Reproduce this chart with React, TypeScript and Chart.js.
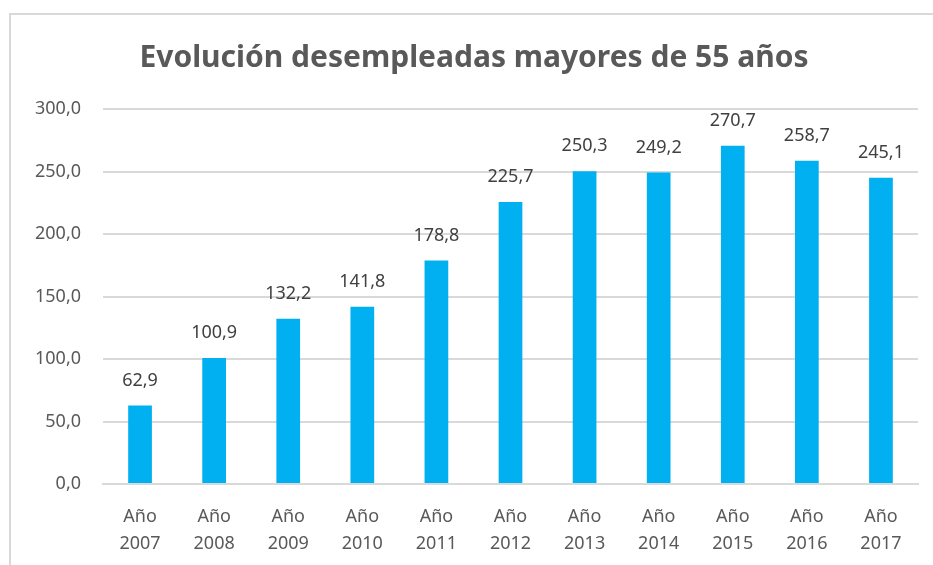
import React, { useEffect, useRef } from "react";
import { Chart, registerables } from "chart.js";

Chart.register(...registerables);

const TITLE = "Evolución desempleadas mayores de 55 años";
const YEARS = ["2007", "2008", "2009", "2010", "2011", "2012", "2013", "2014", "2015", "2016", "2017"];
const CATEGORY_PREFIX = "Año";
const VALUES = [62.9, 100.9, 132.2, 141.8, 178.8, 225.7, 250.3, 249.2, 270.7, 258.7, 245.1];
const Y_MIN = 0;
const Y_MAX = 300;
const Y_STEP = 50;

const FONT = "'Noto Sans', 'Open Sans', sans-serif";
const fmt = (v: number) => v.toFixed(1).replace(".", ",");

const valueLabels = {
  id: "valueLabels",
  afterDatasetsDraw(chart: any) {
    const ctx = chart.ctx;
    const meta = chart.getDatasetMeta(0);
    const data = chart.data.datasets[0].data as number[];
    ctx.save();
    ctx.font = `18px ${FONT}`;
    ctx.fillStyle = "#404040";
    ctx.textAlign = "center";
    ctx.textBaseline = "middle";
    meta.data.forEach((bar: any, i: number) => {
      ctx.fillText(fmt(data[i]), bar.x, bar.y - 25);
    });
    ctx.restore();
  },
};

export default function App() {
  const ref = useRef<HTMLCanvasElement | null>(null);
  useEffect(() => {
    if (!ref.current) return;
    const chart = new Chart(ref.current, {
      type: "bar",
      data: {
        labels: YEARS.map((y) => [CATEGORY_PREFIX, y]),
        datasets: [
          {
            data: VALUES,
            backgroundColor: "#00B0F0",
            borderWidth: 0,
            categoryPercentage: 1,
            barPercentage: 0.32,
          },
        ],
      },
      options: {
        animation: false,
        responsive: false,
        maintainAspectRatio: false,
        layout: { padding: { left: 30, right: 15, top: 40, bottom: 8 } },
        plugins: {
          legend: { display: false },
          tooltip: { enabled: false },
          title: {
            display: true,
            text: TITLE,
            color: "#595959",
            font: { family: FONT, size: 30, weight: "bold", lineHeight: 1.2 },
            padding: { top: 0, bottom: 33 },
          },
        },
        scales: {
          x: {
            afterFit: (scale: any) => {
              scale.height = 73;
            },
            grid: { display: false, drawTicks: false },
            border: { display: true, color: "#d9d9d9", width: 2 },
            ticks: {
              color: "#595959",
              font: { family: FONT, size: 18, lineHeight: 1.5 },
              padding: 19,
              maxRotation: 0,
              autoSkip: false,
            },
          },
          y: {
            min: Y_MIN,
            max: Y_MAX,
            afterFit: (scale: any) => {
              scale.width = 73;
            },
            grid: { color: "#d9d9d9", lineWidth: 2, drawTicks: false },
            border: { display: false },
            ticks: {
              stepSize: Y_STEP,
              color: "#595959",
              padding: 22,
              font: { family: FONT, size: 18 },
              callback: (v: any) => fmt(Number(v)),
            },
          },
        },
      },
      plugins: [valueLabels],
    });
    return () => chart.destroy();
  }, []);

  return (
    <div style={{ position: "fixed", left: 0, top: 0, width: 933, height: 565, background: "#fff", overflow: "hidden" }}>
      <div
        style={{
          position: "absolute",
          left: 9,
          top: 13,
          width: 1000,
          height: 1000,
          borderTop: "2px solid #d9d9d9",
          borderLeft: "2px solid #d9d9d9",
        }}
      />
      <canvas ref={ref} width={933} height={565} style={{ position: "absolute", left: 0, top: 0 }} />
    </div>
  );
}
